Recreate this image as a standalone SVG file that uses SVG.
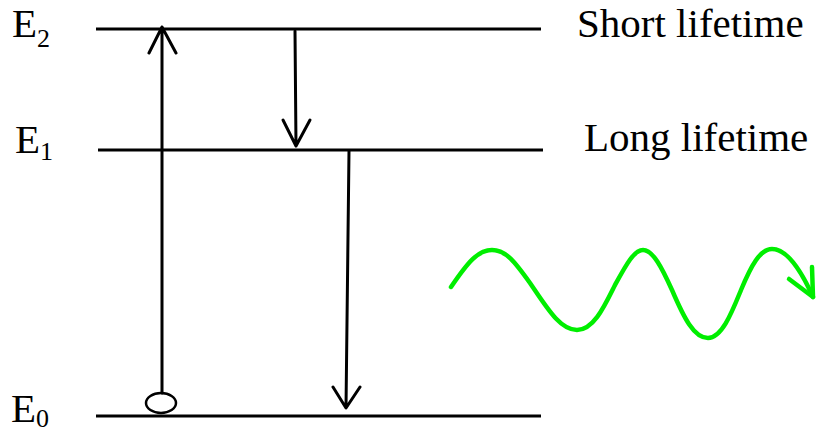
<svg xmlns="http://www.w3.org/2000/svg" width="818" height="433" viewBox="0 0 818 433">
<style>
.lvl{stroke:#000;stroke-width:3;fill:none}
.arr{stroke:#000;stroke-width:3;fill:none;stroke-linecap:round;stroke-linejoin:round}
.lbl{font-family:"Liberation Serif","Times New Roman",serif;font-size:41px;fill:#000}
.sub{font-size:26px}
.wave{stroke:#00ee00;stroke-width:4.5;fill:none;stroke-linecap:round;stroke-linejoin:round}
</style>
<rect width="818" height="433" fill="#fff"/>
<g id="E2">
<line class="lvl" x1="96" y1="29" x2="541" y2="29"/>
<text class="lbl" x="12" y="37">E<tspan class="sub" dy="10">2</tspan></text>
</g>
<g id="E1">
<line class="lvl" x1="98" y1="150" x2="543" y2="150"/>
<text class="lbl" x="15" y="153">E<tspan class="sub" dy="7">1</tspan></text>
</g>
<g id="E0">
<line class="lvl" x1="96" y1="416" x2="541" y2="416"/>
<text class="lbl" x="11" y="422">E<tspan class="sub" dy="5">0</tspan></text>
</g>
<g id="short-label"><text class="lbl" x="577" y="37">Short lifetime</text></g>
<g id="long-label"><text class="lbl" x="584" y="151">Long lifetime</text></g>
<g id="electron"><ellipse cx="161" cy="403" rx="15" ry="10" fill="#fff" stroke="#000" stroke-width="2.5"/></g>
<g id="connectors">
<path class="arr" d="M162 393 L162 27 M149 53 L162 27 L176 53"/>
<path class="arr" d="M295 31 L296 146 M283 120 L296 146 L310 120"/>
<path class="arr" d="M349 151 L346 408 M333 387 L346 408 L360 387"/>
</g>
<g id="photon">
<path class="wave" d="M451 287 C468 262 478 250 492 250 C506 250 515 262 530 283 C547 308 560 330 577 330 C594 330 605 305 615 285 C626 265 634 250 643 250 C653 250 662 268 672 290 C684 318 694 338 708 338 C722 338 732 312 741 290 C751 266 760 249 772 249 C786 249 800 268 813 297"/>
<path class="wave" d="M789 279 L813 297 L812 267"/>
</g>
</svg>
